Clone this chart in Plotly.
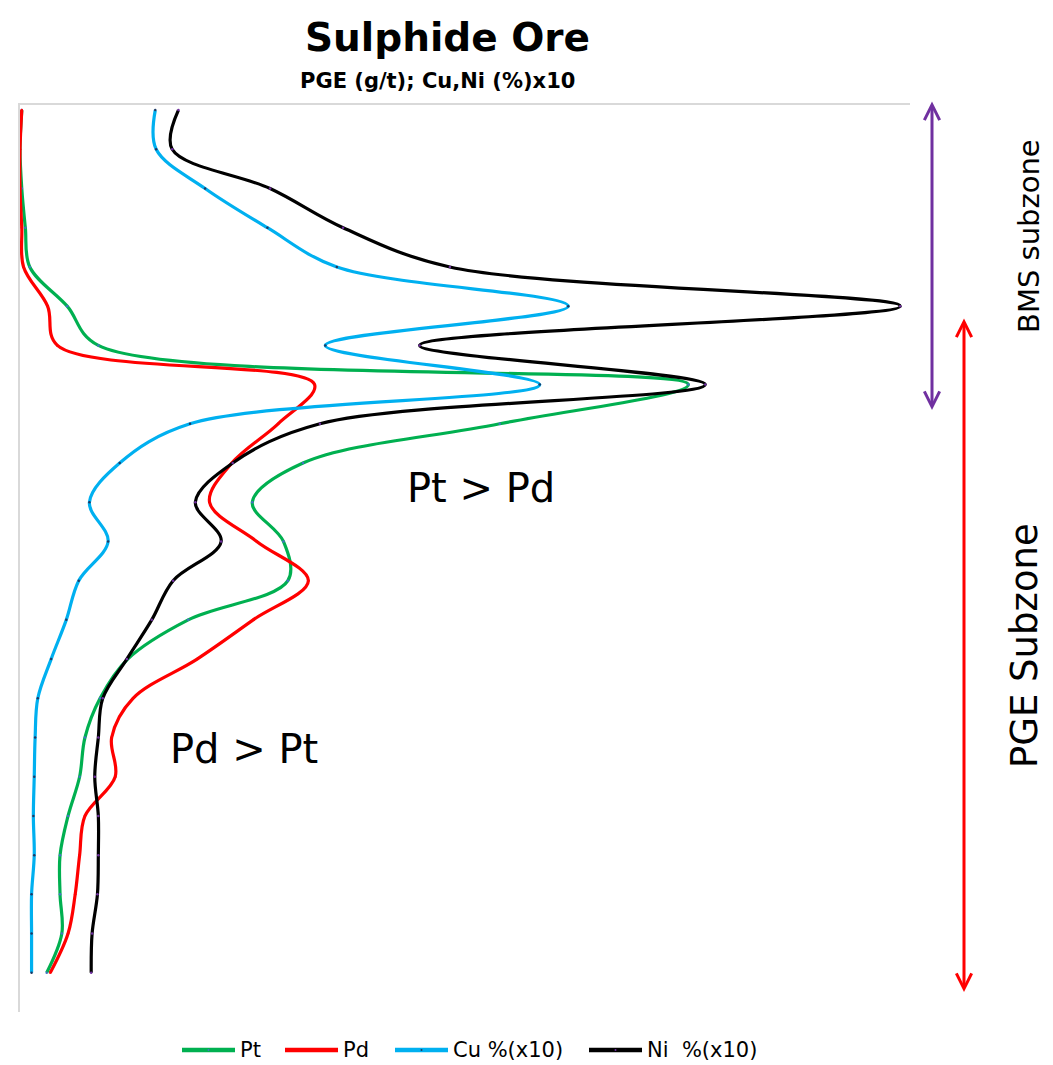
import plotly.graph_objects as go

# Sample index down the profile (0 = top)
depth = list(range(23))

# Concentrations: PGE in g/t, Cu & Ni in % x10
pt = [0.02, 0.00, 0.02, 0.06, 0.11, 0.53, 0.88, 7.51, 5.39, 3.18, 2.61, 2.96, 3.01,
      1.89, 1.21, 0.90, 0.73, 0.67, 0.54, 0.45, 0.45, 0.47, 0.30]
pd_ = [0.02, 0.00, 0.00, 0.02, 0.04, 0.31, 0.42, 3.31, 2.90, 2.38, 2.13, 2.66, 3.24,
       2.62, 1.99, 1.27, 1.03, 1.07, 0.73, 0.67, 0.62, 0.54, 0.34]
cu = [1.52, 1.53, 2.08, 2.78, 3.56, 6.16, 3.43, 5.84, 1.91, 1.12, 0.78, 0.99, 0.66,
      0.52, 0.35, 0.20, 0.17, 0.16, 0.15, 0.16, 0.13, 0.13, 0.13]
ni = [1.78, 1.71, 2.81, 3.63, 4.83, 9.89, 4.49, 7.70, 3.37, 2.39, 1.97, 2.26, 1.72,
      1.48, 1.20, 0.93, 0.88, 0.84, 0.88, 0.88, 0.87, 0.81, 0.80]

series_names = ["Pt", "Pd", "Cu %(x10)", "Ni  %(x10)"]
series_vals = [pt, pd_, cu, ni]
line_colors = ["#00b050", "#ff0000", "#00b0f0", "#000000"]
marker_colors = ["#4472c4", "#ff0000", "#1f3864", "#7030a0"]

FONT = "DejaVu Sans"

# plot area in pixels
L, R, T, B = 20, 910, 105, 1012
W, H = R - L, B - T


def dx(px):
    return (px - L) / W


def dy(py):
    return (B - py) / H


fig = go.Figure()
for name, vals, lc, mc in zip(series_names, series_vals, line_colors, marker_colors):
    fig.add_trace(go.Scatter(
        x=vals, y=depth, name=name, mode="lines+markers", showlegend=False,
        line=dict(color=lc, width=3.2, shape="spline", smoothing=1.0),
        marker=dict(color=mc, size=2.5),
    ))

fig.update_layout(
    width=1053, height=1065,
    margin=dict(l=L, r=1053 - R, t=T, b=1065 - B, autoexpand=False),
    paper_bgcolor="white", plot_bgcolor="white",
    font=dict(family=FONT, color="black"),
    showlegend=False,
    xaxis=dict(range=[0, 10], showgrid=False, zeroline=False, showticklabels=False,
               ticks="", showline=True, linecolor="#d9d9d9", linewidth=2, side="top"),
    yaxis=dict(range=[23.0, -0.13], showgrid=False, zeroline=False, showticklabels=False,
               ticks="", showline=True, linecolor="#d9d9d9", linewidth=2),
)

ann = []
shapes = []
# Title & subtitle
ann.append(dict(text="<b>Sulphide Ore</b>", xref="x domain", yref="y domain", x=dx(447), y=dy(38),
                showarrow=False, font=dict(size=39, family=FONT), xanchor="center", yanchor="middle"))
ann.append(dict(text="<b>PGE (g/t); Cu,Ni (%)x10</b>", xref="x domain", yref="y domain", x=dx(437), y=dy(81),
                showarrow=False, font=dict(size=21, family=FONT), xanchor="center", yanchor="middle"))
# In-plot labels
ann.append(dict(text="Pt > Pd", xref="x domain", yref="y domain", x=dx(481), y=dy(488),
                showarrow=False, font=dict(size=40, family=FONT), xanchor="center", yanchor="middle"))
ann.append(dict(text="Pd > Pt", xref="x domain", yref="y domain", x=dx(244), y=dy(749),
                showarrow=False, font=dict(size=40, family=FONT), xanchor="center", yanchor="middle"))
# Zone labels
ann.append(dict(text="BMS subzone", xref="x domain", yref="y domain", x=dx(1029), y=dy(236),
                showarrow=False, textangle=-90, font=dict(size=29, family=FONT), xanchor="center", yanchor="middle"))
ann.append(dict(text="PGE Subzone", xref="x domain", yref="y domain", x=dx(1024), y=dy(646),
                showarrow=False, textangle=-90, font=dict(size=37, family=FONT), xanchor="center", yanchor="middle"))


# Double-headed arrows
def dbl_arrow(xpx, y0px, y1px, color):
    return dict(xref="x domain", yref="y domain", axref="x domain", ayref="y domain",
                x=dx(xpx), y=dy(y1px), ax=dx(xpx), ay=dy(y0px),
                text="", showarrow=True, arrowside="end+start", arrowhead=5, startarrowhead=5,
                arrowsize=1.0, startarrowsize=1.0, arrowwidth=3, arrowcolor=color,
                standoff=0, startstandoff=0)


ann.append(dbl_arrow(932, 100, 410, "#7030a0"))
ann.append(dbl_arrow(964, 317, 992, "#ff0000"))

# Legend (drawn below the plot)
leg_x = [182, 285, 395, 589]
leg_y = 1050
for name, lc, mc, x0 in zip(series_names, line_colors, marker_colors, leg_x):
    shapes.append(dict(type="line", xref="x domain", yref="y domain",
                       x0=dx(x0), x1=dx(x0 + 53), y0=dy(leg_y), y1=dy(leg_y),
                       line=dict(color=lc, width=4.5)))
    shapes.append(dict(type="circle", xref="x domain", yref="y domain",
                       x0=dx(x0 + 25.5), x1=dx(x0 + 27.5), y0=dy(leg_y - 1), y1=dy(leg_y + 1),
                       line=dict(width=0), fillcolor=mc))
    ann.append(dict(text=name, xref="x domain", yref="y domain", x=dx(x0 + 56), y=dy(leg_y),
                    showarrow=False, font=dict(size=21, family=FONT), xanchor="left", yanchor="middle"))

fig.update_layout(annotations=ann, shapes=shapes)
fig.write_html("out.html")
